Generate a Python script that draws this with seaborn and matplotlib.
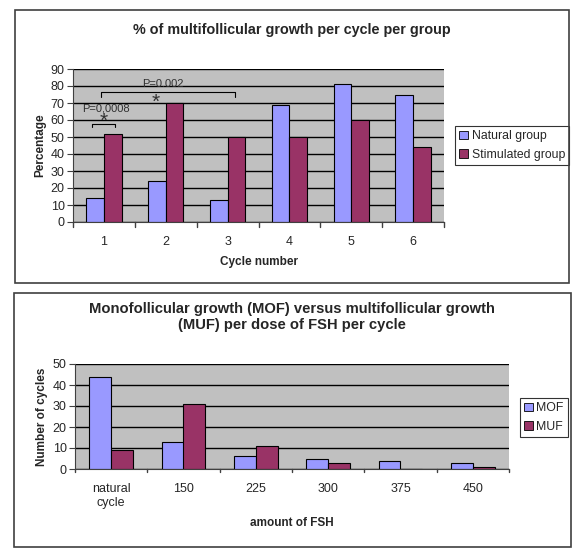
import pandas as pd
import matplotlib
matplotlib.use('Agg')
import matplotlib.pyplot as plt
import seaborn as sns
from matplotlib.patches import Rectangle

# data
cycles = ['1', '2', '3', '4', '5', '6']
natural_group = [14, 24, 13, 69, 81, 75]
stimulated_group = [52, 70, 50, 50, 60, 44]

fsh_doses = ['natural\ncycle', '150', '225', '300', '375', '450']
mof = [44, 13, 6, 5, 4, 3]
muf = [9, 31, 11, 3, 0, 1]

NAT = '#9999FF'
STIM = '#993366'
BG = '#C0C0C0'

sns.set_style('white')
plt.rcParams['font.family'] = ['Liberation Sans', 'DejaVu Sans']

W, H = 580, 557
fig = plt.figure(figsize=(W / 100, H / 100), dpi=100)


def px_box(x0, y0, x1, y1):
    # pixel box (top-left origin) -> figure fraction rect
    return [x0 / W, 1 - y1 / H, (x1 - x0) / W, (y1 - y0) / H]


def panel_frame(x0, y0, x1, y1):
    b = px_box(x0, y0, x1, y1)
    fig.patches.append(Rectangle((b[0], b[1]), b[2], b[3], transform=fig.transFigure,
                                 fill=False, edgecolor='#404040', linewidth=1.2))


def style_axes(ax, ymax, step):
    ax.set_facecolor(BG)
    ax.set_ylim(0, ymax)
    ax.set_yticks(range(0, ymax + 1, step))
    ax.yaxis.grid(True, color='black', linewidth=1.0)
    ax.set_axisbelow(True)
    for s in ['top', 'right']:
        ax.spines[s].set_visible(False)
    ax.spines['left'].set_color('#404040')
    ax.spines['bottom'].set_color('#404040')
    ax.tick_params(axis='y', length=4, direction='out', left=True, labelsize=9, pad=2, color='#404040')
    ax.tick_params(axis='x', length=0, labelsize=9, pad=10)
    n = len(ax.get_xticks())
    ax.set_xlim(-0.5, n - 0.5)
    for k in range(n + 1):
        ax.plot([k - 0.5, k - 0.5], [0, -ymax * 0.03], color='#404040', lw=1, clip_on=False)


def style_legend(leg):
    leg.get_frame().set_linewidth(0.8)
    for h in leg.legend_handles:
        h.set_edgecolor('black')
        h.set_linewidth(0.6)


# ---------- top chart ----------
panel_frame(15, 10, 569, 283)
df1 = pd.DataFrame({
    'cycle': cycles * 2,
    'value': natural_group + stimulated_group,
    'group': ['Natural group'] * len(cycles) + ['Stimulated group'] * len(cycles),
})
ax1 = fig.add_axes(px_box(73, 69, 444, 222))
sns.barplot(data=df1, x='cycle', y='value', hue='group', palette=[NAT, STIM],
            width=0.57, edgecolor='black', linewidth=0.8, saturation=1, ax=ax1)
style_axes(ax1, 90, 10)
ax1.set_xlabel('Cycle number', fontsize=8.5, fontweight='bold', labelpad=6)
ax1.set_ylabel('Percentage', fontsize=8.5, fontweight='bold', labelpad=3)
fig.text(292 / W, 1 - 30 / H, '% of multifollicular growth per cycle per group',
         ha='center', va='center', fontsize=10.4, fontweight='bold')
leg1 = ax1.legend(loc='center left', bbox_to_anchor=(1.03, 0.5), borderaxespad=0, fontsize=8.8,
                  frameon=True, fancybox=False, edgecolor='black', handlelength=0.7,
                  handleheight=0.7, handletextpad=0.3, borderpad=0.35, labelspacing=0.55)
style_legend(leg1)

# significance brackets
ax1.plot([-0.19, -0.19, 0.18, 0.18], [56, 57.5, 57.5, 56], color='black', lw=0.8)
ax1.text(0.04, 67, 'P=0,0008', ha='center', va='center', fontsize=8, color='#303030')
ax1.text(-0.01, 59.5, '*', ha='center', va='center', fontsize=15, color='#303030')
ax1.plot([-0.05, -0.05, 2.12, 2.12], [73.5, 76.3, 76.3, 73.5], color='black', lw=0.8)
ax1.text(0.96, 81, 'P=0.002', ha='center', va='center', fontsize=8, color='#303030')
ax1.text(0.84, 70.5, '*', ha='center', va='center', fontsize=15, color='#303030')

# ---------- bottom chart ----------
panel_frame(14, 293, 571, 547)
df2 = pd.DataFrame({
    'dose': fsh_doses * 2,
    'value': mof + muf,
    'kind': ['MOF'] * len(fsh_doses) + ['MUF'] * len(fsh_doses),
})
ax2 = fig.add_axes(px_box(75, 364, 509, 469))
sns.barplot(data=df2, x='dose', y='value', hue='kind', palette=[NAT, STIM],
            width=0.6, edgecolor='black', linewidth=0.8, saturation=1, ax=ax2)
style_axes(ax2, 50, 10)
ax2.set_xlabel('amount of FSH', fontsize=8.5, fontweight='bold', labelpad=6)
ax2.set_ylabel('Number of cycles', fontsize=8.5, fontweight='bold', labelpad=3)
fig.text(292 / W, 1 - 317 / H,
         'Monofollicular growth (MOF) versus multifollicular growth\n(MUF) per dose of FSH per cycle',
         ha='center', va='center', fontsize=10.6, fontweight='bold', linespacing=1.2)
leg2 = ax2.legend(loc='center left', bbox_to_anchor=(1.025, 0.49), borderaxespad=0, fontsize=8.8,
                  frameon=True, fancybox=False, edgecolor='black', handlelength=0.7,
                  handleheight=0.7, handletextpad=0.3, borderpad=0.35, labelspacing=0.55)
style_legend(leg2)

fig.savefig('out.png', dpi=100, facecolor='white')
